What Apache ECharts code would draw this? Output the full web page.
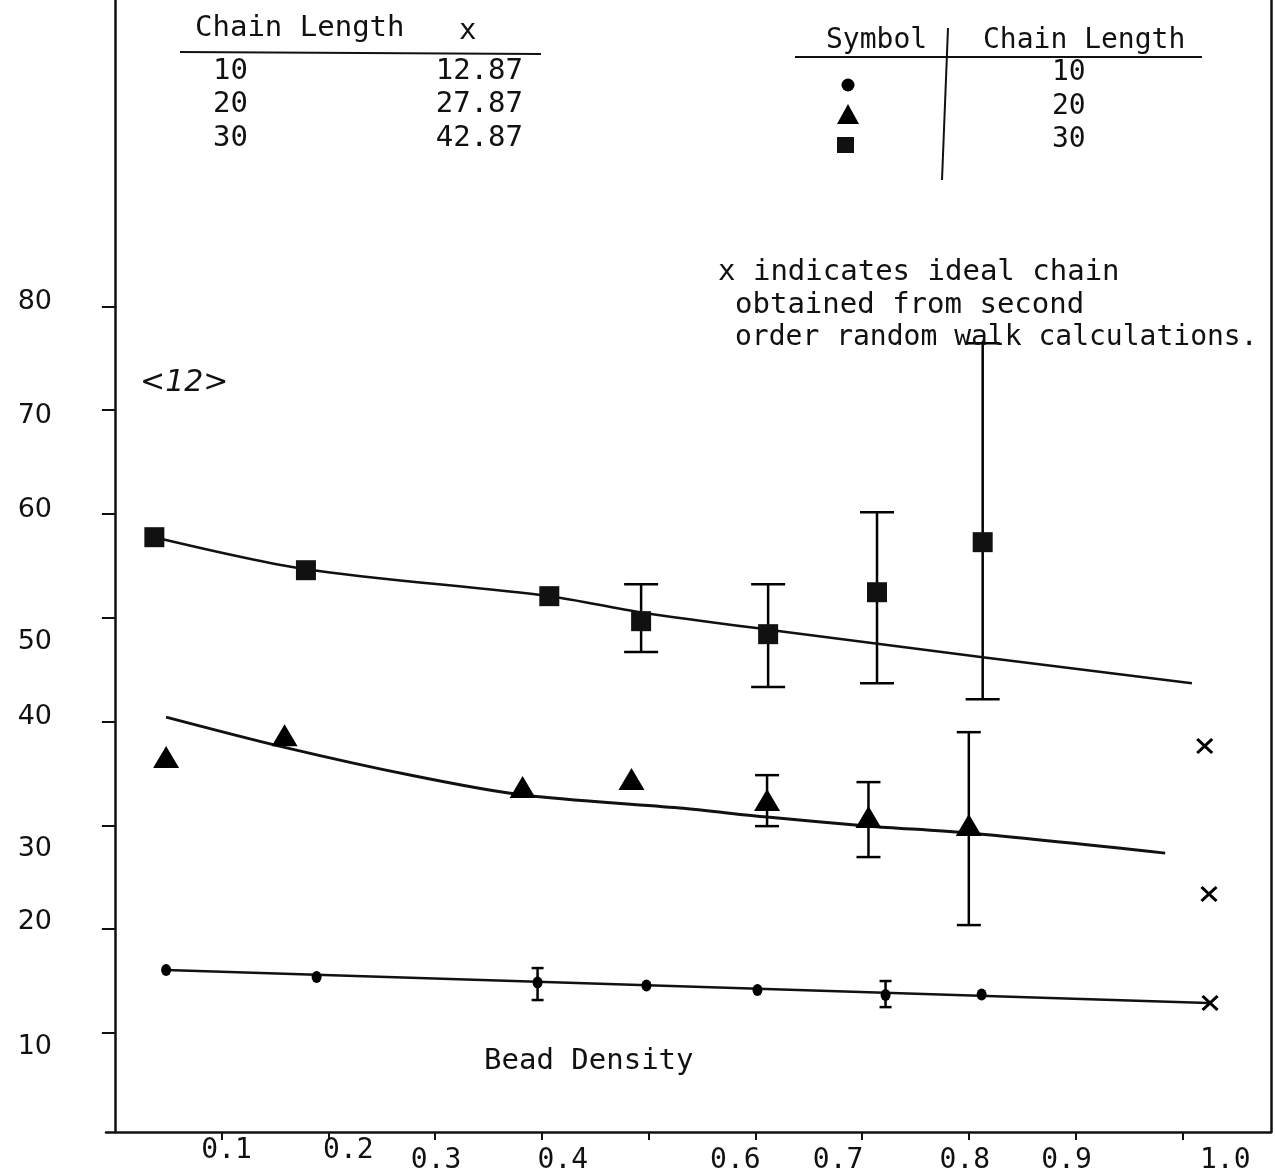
<!DOCTYPE html>
<html>
<head>
<meta charset="utf-8">
<script src="https://cdn.jsdelivr.net/npm/echarts@6/dist/echarts.min.js"></script>
<style>
  html, body { margin: 0; padding: 0; background: #fff; }
  #main { width: 1275px; height: 1175px; }
</style>
</head>
<body>
<div id="main"></div>
<script>
// ---- data ----
// axis ticks / labels
var densityTicks = [0.1, 0.2, 0.3, 0.4, 0.5, 0.6, 0.7, 0.8, 0.9, 1.0];
var densityLabels = [0.1, 0.2, 0.3, 0.4, 0.6, 0.7, 0.8, 0.9, 1.0];
var sizeTicks = [10, 20, 30, 40, 50, 60, 70, 80];

// table top left
var chainLengths = [10, 20, 30];
var idealValues = ['12.87', '27.87', '42.87'];

// chain length 30 (squares)
var dens30 = [0.037, 0.179, 0.407, 0.493, 0.612, 0.714, 0.813];
var size30 = [57.76, 54.58, 52.08, 49.67, 48.42, 52.46, 57.28];
var low30  = [null, null, null, 46.69, 43.32, 43.70, 42.16];
var high30 = [null, null, null, 53.23, 53.23, 60.17, 76.44];
var fitDens30 = [0.037, 0.179, 0.407, 0.492, 0.616, 0.813, 1.009];
var fitSize30 = [57.76, 54.68, 52.08, 50.54, 48.80, 46.20, 43.70];

// chain length 20 (triangles)
var dens20 = [0.048, 0.159, 0.382, 0.484, 0.611, 0.706, 0.800];
var size20 = [36.58, 38.69, 33.69, 34.46, 32.44, 30.80, 30.03];
var low20  = [null, null, null, null, 29.93, 26.95, 20.40];
var high20 = [null, null, null, null, 34.84, 34.17, 38.98];
var fitDens20 = [0.048, 0.158, 0.281, 0.382, 0.529, 0.611, 0.707, 0.800, 0.984];
var fitSize20 = [40.43, 37.54, 34.75, 32.92, 31.67, 30.80, 29.93, 29.26, 27.33];

// chain length 10 (circles)
var dens10 = [0.048, 0.189, 0.396, 0.498, 0.602, 0.722, 0.812];
var size10 = [16.07, 15.39, 14.86, 14.58, 14.14, 13.66, 13.71];
var low10  = [null, null, 13.18, null, null, 12.50, null];
var high10 = [null, null, 16.26, null, null, 15.01, null];
var fitDens10 = [0.048, 1.024];
var fitSize10 = [16.07, 12.89];

// ideal chain (x marks)
var idealDens = [1.021, 1.025, 1.026];
var idealSize = [37.64, 23.39, 12.89];

// ---- helpers ----
var mono = '"DejaVu Sans Mono", "Liberation Mono", monospace';
var sans = '"DejaVu Sans", sans-serif';

function pairs(xs, ys) {
  return xs.map(function (x, i) { return [x, ys[i]]; });
}
function bars(xs, lo, hi) {
  var out = [];
  xs.forEach(function (x, i) {
    if (lo[i] != null) out.push([x, lo[i], hi[i]]);
  });
  return out;
}
function errorBars(cap) {
  return function (params, api) {
    var top = api.coord([api.value(0), api.value(2)]);
    var bot = api.coord([api.value(0), api.value(1)]);
    var st = { stroke: '#000', lineWidth: 2.5 };
    return {
      type: 'group',
      children: [
        { type: 'line', shape: { x1: top[0], y1: top[1], x2: bot[0], y2: bot[1] }, style: st },
        { type: 'line', shape: { x1: top[0] - cap / 2, y1: top[1], x2: top[0] + cap / 2, y2: top[1] }, style: st },
        { type: 'line', shape: { x1: bot[0] - cap / 2, y1: bot[1], x2: bot[0] + cap / 2, y2: bot[1] }, style: st }
      ]
    };
  };
}

// label nudges (the typed labels do not sit exactly on the ticks)
var yShift = { 80: -4, 70: 6, 60: -4, 50: 24, 40: -5, 30: 24, 20: -7, 10: 14 };
var xShift = { 1: [5, 0], 2: [20, -2], 3: [1, 10], 4: [21, 10], 6: [-20, 10],
               7: [-24, 10], 8: [-4, 10], 9: [-9, 10], 10: [43, 10] };
var yRich = {}, xRich = {};
sizeTicks.forEach(function (v) {
  var d = yShift[v];
  yRich['y' + v] = { fontFamily: sans, fontSize: 27, color: '#111',
    padding: [d > 0 ? 2 * d : 0, 0, d < 0 ? -2 * d : 0, 0] };
});
Object.keys(xShift).forEach(function (k) {
  var dx = xShift[k][0], dy = xShift[k][1];
  xRich['x' + k] = { fontFamily: mono, fontSize: 28, color: '#111',
    padding: [Math.max(dy, 0), dx < 0 ? -2 * dx : 0, 0, dx > 0 ? 2 * dx : 0] };
});

var chart = echarts.init(document.getElementById('main'));

function txt(text, x, y, align, size) {
  return { type: 'text', x: x, y: y, z: 10,
    style: { text: text, font: (size || 29) + 'px ' + mono, fill: '#111', align: align || 'left', verticalAlign: 'middle' } };
}
function seg(x1, y1, x2, y2) {
  return { type: 'line', z: 10, shape: { x1: x1, y1: y1, x2: x2, y2: y2 },
    style: { stroke: '#111', lineWidth: 2 } };
}

var graphics = [
  // top-left table
  txt('Chain Length', 195, 28), txt('x', 459, 31),
  seg(180, 52, 541, 54),
  // top-right symbol table
  txt('Symbol', 826, 41, 'left', 28), txt('Chain Length', 983, 41, 'left', 28),
  seg(795, 57, 1202, 57), seg(948, 28, 942, 180),
  { type: 'circle', z: 10, shape: { cx: 848, cy: 85, r: 6.5 }, style: { fill: '#000' } },
  { type: 'polygon', z: 10, shape: { points: [[848, 104], [837, 124], [859, 124]] }, style: { fill: '#000' } },
  { type: 'rect', z: 10, shape: { x: 837, y: 137, width: 17, height: 16 }, style: { fill: '#111' } },
  // annotation
  txt('x indicates ideal chain', 718, 272),
  txt('obtained from second', 735, 305),
  txt('order random walk calculations.', 735, 338, 'left', 28),
  // axis title
  txt('Bead Density', 484, 1061),
  // handwritten mark
  { type: 'text', x: 140, y: 383, z: 10,
    style: { text: '<12>', font: 'italic 30px ' + sans, fill: '#111', verticalAlign: 'middle' } }
];
chainLengths.forEach(function (c, i) {
  graphics.push(txt(String(c), 213, 71 + i * 33.5));
  graphics.push(txt(idealValues[i], 523, 71 + i * 33.5, 'right'));
  graphics.push(txt(String(c), 1052, 73 + i * 33.5, 'left', 28));
});

var axisLine = { show: true, lineStyle: { color: '#111', width: 2.5 } };

chart.setOption({
  animation: false,
  backgroundColor: '#fff',
  grid: { left: 106, right: 4, top: 0, bottom: 43, containLabel: false },
  graphic: graphics,
  xAxis: {
    type: 'value', min: -0.0083, max: 1.0831,
    axisLine: axisLine,
    splitLine: { show: false },
    axisTick: { show: true, length: 8, customValues: densityTicks, lineStyle: { color: '#111', width: 2 } },
    axisLabel: {
      show: true, margin: 5, customValues: densityLabels,
      fontFamily: mono, fontSize: 28, color: '#111',
      formatter: function (v) { var k = Math.round(v * 10); return '{x' + k + '|' + v.toFixed(1) + '}'; },
      rich: xRich
    }
  },
  yAxis: [{
    type: 'value', min: 0.47, max: 109.5,
    axisLine: axisLine,
    splitLine: { show: false },
    axisTick: { show: true, length: 13, customValues: sizeTicks, lineStyle: { color: '#111', width: 2 } },
    axisLabel: {
      show: true, margin: 54, customValues: sizeTicks,
      fontFamily: sans, fontSize: 27, color: '#111',
      formatter: function (v) { return '{y' + v + '|' + v + '}'; },
      rich: yRich
    }
  }, {
    type: 'value', min: 0.47, max: 109.5, position: 'right',
    axisLine: axisLine, axisTick: { show: false }, axisLabel: { show: false }, splitLine: { show: false }
  }],
  series: [
    { type: 'line', data: pairs(fitDens30, fitSize30), smooth: 0.3, showSymbol: false,
      lineStyle: { color: '#111', width: 2.5 } },
    { type: 'line', data: pairs(fitDens20, fitSize20), smooth: 0.3, showSymbol: false,
      lineStyle: { color: '#111', width: 3 } },
    { type: 'line', data: pairs(fitDens10, fitSize10), showSymbol: false,
      lineStyle: { color: '#111', width: 2.5 } },
    { type: 'custom', renderItem: errorBars(34), data: bars(dens30, low30, high30), encode: { x: 0, y: [1, 2] } },
    { type: 'custom', renderItem: errorBars(24), data: bars(dens20, low20, high20), encode: { x: 0, y: [1, 2] } },
    { type: 'custom', renderItem: errorBars(12), data: bars(dens10, low10, high10), encode: { x: 0, y: [1, 2] } },
    { type: 'scatter', data: pairs(dens30, size30), symbol: 'rect', symbolSize: 20, z: 5,
      itemStyle: { color: '#111', opacity: 1 } },
    { type: 'scatter', data: pairs(dens20, size20), symbol: 'triangle', symbolSize: [26, 22], z: 5,
      itemStyle: { color: '#000', opacity: 1 } },
    { type: 'scatter', data: pairs(dens10, size10), symbol: 'circle', symbolSize: [10, 12], z: 5,
      itemStyle: { color: '#000', opacity: 1 } },
    { type: 'scatter', data: pairs(idealDens, idealSize), z: 5,
      symbol: 'path://M0,0L10,10M10,0L0,10', symbolSize: [15, 14],
      itemStyle: { color: 'none', borderColor: '#000', borderWidth: 3, opacity: 1 } }
  ]
});
</script>
</body>
</html>
